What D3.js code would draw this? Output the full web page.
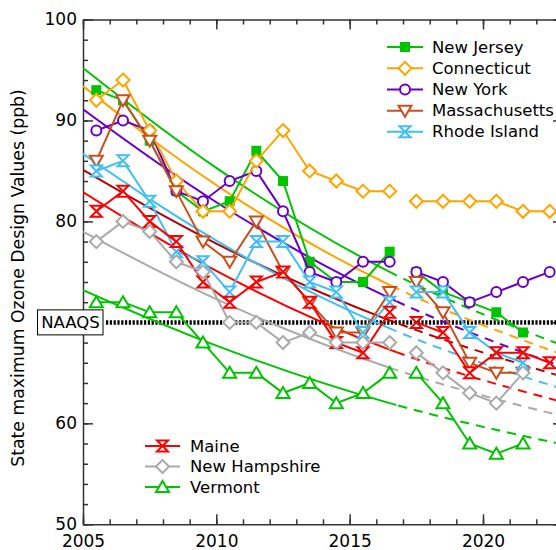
<!DOCTYPE html>
<html>
<head>
<meta charset="utf-8">
<script src="https://cdn.jsdelivr.net/npm/d3@7"></script>
<style>
  body { margin: 0; background: #fff; }
  svg text { font-family: "DejaVu Sans", sans-serif; fill: #000; }
</style>
</head>
<body>
<div id="my_dataviz"></div>
<script>
// design value years (points sit in the middle of each year)
const years = [2005, 2006, 2007, 2008, 2009, 2010, 2011, 2012, 2013, 2014, 2015, 2016, 2017, 2018, 2019, 2020, 2021, 2022];

const newJersey     = [93, 92, 88, 83, 81, 82, 87, 84, 76, 74, 74, 77, 75, 73, 72, 71, 69, null];
const connecticut   = [92, 94, 89, 84, 81, 81, 86, 89, 85, 84, 83, 83, 82, 82, 82, 82, 81, 81];
const newYork       = [89, 90, 89, 83, 82, 84, 85, 81, 75, 74, 76, 76, 75, 74, 72, 73, 74, 75];
const massachusetts = [86, 92, 88, 83, 78, 76, 80, 75, 72, 69, 69, 73, 74, 71, 66, 65, 65, null];
const rhodeIsland   = [85, 86, 82, 77, 76, 73, 78, 78, 74, 73, 69, 72, 73, 73, 69, 67, 66, null];
const maine         = [81, 83, 80, 78, 74, 72, 74, 75, 72, 68, 67, 71, 70, 69, 65, 67, 67, 66];
const newHampshire  = [78, 80, 79, 76, 75, 70, 70, 68, 69, 68, 68, 68, 67, 65, 63, 62, 65, null];
const vermont       = [72, 72, 71, 71, 68, 65, 65, 63, 64, 62, 63, 65, 65, 62, 58, 57, 58, null];

// fitted trend curves
const trendYears = [2005, 2010, 2016.5, 2023];
const trendNJ = [95.2, 85.3, 75.0, 67.7];
const trendCT = [93.4, 83.6, 73.7, 66.8];
const trendNY = [91.1, 81.9, 72.4, 65.6];
const trendMA = [85.1, 77.8, 70.2, 64.6];
const trendRI = [86.7, 78.1, 69.4, 63.4];
const trendME = [82.9, 75.1, 67.3, 62.1];
const trendNH = [79.0, 72.3, 65.5, 60.7];
const trendVT = [73.2, 67.7, 62.0, 57.9];
const trendSplit = 2016.75;

const naaqs = 70;
const xTicksMajor = [2005, 2010, 2015, 2020];
const yTicksMajor = [50, 60, 70, 80, 90, 100];

const W = 556, H = 550;

const svg = d3.select("#my_dataviz")
  .append("svg")
    .attr("width", W)
    .attr("height", H);

const x = d3.scaleLinear().domain([2005, 2023]).range([83, 563]);
const y = d3.scaleLinear().domain([50, 100]).range([524.3, 19.5]);

const states = [
  {name: "New Jersey",    vals: newJersey,     color: "#00c400", trend: trendNJ, tcolor: "#00c400", mark: "square"},
  {name: "New York",      vals: newYork,       color: "#6a00c8", trend: trendNY, tcolor: "#6a00c8", mark: "circle"},
  {name: "Connecticut",   vals: connecticut,   color: "#ffa500", trend: trendCT, tcolor: "#ffa500", mark: "diamond"},
  {name: "Massachusetts", vals: massachusetts, color: "#c8501e", trend: trendMA, tcolor: "#b40000", mark: "tridown"},
  {name: "Rhode Island",  vals: rhodeIsland,   color: "#40bff5", trend: trendRI, tcolor: "#40bff5", mark: "hourglass"},
  {name: "Maine",         vals: maine,         color: "#ff0000", trend: trendME, tcolor: "#ff0000", mark: "hourglass"},
  {name: "New Hampshire", vals: newHampshire,  color: "#aaaaaa", trend: trendNH, tcolor: "#aaaaaa", mark: "diamond"},
  {name: "Vermont",       vals: vermont,       color: "#00c400", trend: trendVT, tcolor: "#00c400", mark: "triup"}
];
const byName = {};
states.forEach(s => byName[s.name] = s);

// ---------------------------//
//       CLIPS                //
// ---------------------------//
const defs = svg.append("defs");
defs.append("clipPath").attr("id", "clipSolid")
  .append("rect")
    .attr("x", x(2005)).attr("y", 0)
    .attr("width", x(trendSplit) - x(2005)).attr("height", H);
defs.append("clipPath").attr("id", "clipDash")
  .append("rect")
    .attr("x", x(trendSplit)).attr("y", 0)
    .attr("width", x(2023) - x(trendSplit)).attr("height", H);

// ---------------------------//
//       AXES                 //
// ---------------------------//
const axisColor = "#333";
function styleAxis(g) {
  g.selectAll("path, line").attr("stroke", axisColor).attr("stroke-width", 1.5);
  g.selectAll("text").style("font-size", "17px").attr("fill", "#000");
}
const allYears = d3.range(2005, 2024);
const minorY = d3.range(50, 101, 2);

svg.append("g").attr("transform", `translate(0,${y(50)})`)
  .call(d3.axisBottom(x).tickValues(allYears).tickSize(-5).tickSizeOuter(0).tickFormat(""))
  .call(styleAxis);
svg.append("g").attr("transform", `translate(0,${y(50)})`)
  .call(d3.axisBottom(x).tickValues(xTicksMajor).tickSize(-10).tickSizeOuter(0).tickPadding(10.5).tickFormat(d3.format("d")))
  .call(g => g.select(".domain").remove())
  .call(styleAxis);
svg.append("g").attr("transform", `translate(0,${y(100)})`)
  .call(d3.axisTop(x).tickValues(allYears).tickSize(-5).tickSizeOuter(0).tickFormat(""))
  .call(styleAxis);
svg.append("g").attr("transform", `translate(0,${y(100)})`)
  .call(d3.axisTop(x).tickValues(xTicksMajor).tickSize(-10).tickSizeOuter(0).tickFormat(""))
  .call(g => g.select(".domain").remove())
  .call(styleAxis);

svg.append("g").attr("transform", `translate(${x(2005)},0)`)
  .call(d3.axisLeft(y).tickValues(minorY).tickSize(-5).tickSizeOuter(0).tickFormat(""))
  .call(styleAxis);
svg.append("g").attr("transform", `translate(${x(2005)},0)`)
  .call(d3.axisLeft(y).tickValues(yTicksMajor).tickSize(-10).tickSizeOuter(0).tickPadding(6))
  .call(g => g.select(".domain").remove())
  .call(styleAxis);
svg.append("g").attr("transform", `translate(${x(2023)},0)`)
  .call(d3.axisRight(y).tickValues(minorY).tickSize(-5).tickSizeOuter(0).tickFormat(""))
  .call(styleAxis);
svg.append("g").attr("transform", `translate(${x(2023)},0)`)
  .call(d3.axisRight(y).tickValues(yTicksMajor).tickSize(-10).tickSizeOuter(0).tickFormat(""))
  .call(g => g.select(".domain").remove())
  .call(styleAxis);

// y axis title
svg.append("text")
  .attr("transform", `translate(24,${278}) rotate(-90)`)
  .attr("text-anchor", "middle")
  .style("font-size", "17.3px")
  .text("State maximum Ozone Design Values (ppb)");

// ---------------------------//
//       NAAQS                //
// ---------------------------//
svg.append("line")
  .attr("x1", 106).attr("x2", W)
  .attr("y1", y(naaqs)).attr("y2", y(naaqs))
  .attr("stroke", "#000")
  .attr("stroke-width", 4.5)
  .attr("stroke-dasharray", "2.2,1.6");

svg.append("rect")
  .attr("x", 37.5).attr("y", y(naaqs) - 12.5)
  .attr("width", 65.5).attr("height", 25)
  .attr("fill", "#fff").attr("stroke", "#000").attr("stroke-width", 1);
svg.append("text")
  .attr("x", 70.5).attr("y", y(naaqs))
  .attr("text-anchor", "middle")
  .attr("dominant-baseline", "central")
  .style("font-size", "16.5px")
  .text("NAAQS");

// ---------------------------//
//       TRENDS               //
// ---------------------------//
const trendLine = d3.line()
  .x(d => x(d[0]))
  .y(d => y(d[1]))
  .curve(d3.curveNatural);

states.forEach(s => {
  const pts = trendYears.map((yr, i) => [yr, s.trend[i]]);
  svg.append("path")
    .attr("d", trendLine(pts))
    .attr("clip-path", "url(#clipSolid)")
    .attr("fill", "none").attr("stroke", s.tcolor).attr("stroke-width", 2);
  svg.append("path")
    .attr("d", trendLine(pts))
    .attr("clip-path", "url(#clipDash)")
    .attr("fill", "none").attr("stroke", s.tcolor).attr("stroke-width", 2)
    .attr("stroke-dasharray", "9,7");
});

// ---------------------------//
//       MARKERS              //
// ---------------------------//
function drawMarker(g, type, color) {
  if (type === "square") {
    g.append("rect").attr("x", -5).attr("y", -5).attr("width", 10).attr("height", 10)
      .attr("fill", color);
  } else if (type === "circle") {
    g.append("circle").attr("r", 5)
      .attr("fill", "#fff").attr("stroke", color).attr("stroke-width", 2);
  } else {
    const paths = {
      diamond: "M0,-6.5L6.5,0L0,6.5L-6.5,0Z",
      tridown: "M-6.5,-5L6.5,-5L0,6Z",
      triup: "M0,-6L6.5,5L-6.5,5Z",
      hourglass: "M-5.5,-5.5L5.5,-5.5L-5.5,5.5L5.5,5.5Z"
    };
    g.append("path").attr("d", paths[type])
      .attr("fill", "#fff").attr("stroke", color).attr("stroke-width", 2)
      .attr("stroke-linejoin", "miter");
  }
}

// ---------------------------//
//       SERIES               //
// ---------------------------//
const dataLine = d3.line()
  .defined(d => d.v !== null)
  .x(d => x(d.yr + 0.5))
  .y(d => y(d.v));

states.forEach(s => {
  const pts = years.map((yr, i) => ({yr: yr, v: s.vals[i]}));
  const early = pts.filter(d => d.yr <= 2016);
  const late = pts.filter(d => d.yr >= 2017);
  const g = svg.append("g");
  [early, late].forEach(part => {
    g.append("path")
      .attr("d", dataLine(part))
      .attr("fill", "none").attr("stroke", s.color).attr("stroke-width", 2);
  });
  pts.filter(d => d.v !== null).forEach(d => {
    const m = g.append("g").attr("transform", `translate(${x(d.yr + 0.5)},${y(d.v)})`);
    drawMarker(m, s.mark, s.color);
  });
});

// ---------------------------//
//       LEGENDS              //
// ---------------------------//
function legend(names, x0, x1, tx, ys) {
  names.forEach((n, i) => {
    const s = byName[n];
    svg.append("line")
      .attr("x1", x0).attr("x2", x1).attr("y1", ys[i]).attr("y2", ys[i])
      .attr("stroke", s.color).attr("stroke-width", 2);
    const m = svg.append("g").attr("transform", `translate(${(x0 + x1) / 2},${ys[i]})`);
    drawMarker(m, s.mark, s.color);
    svg.append("text")
      .attr("x", tx).attr("y", ys[i])
      .attr("dominant-baseline", "central")
      .style("font-size", "16.5px")
      .text(n);
  });
}
legend(["New Jersey", "Connecticut", "New York", "Massachusetts", "Rhode Island"],
  387, 423, 432, [47, 68.3, 89.5, 110.7, 131.7]);
legend(["Maine", "New Hampshire", "Vermont"],
  145, 180, 190, [446, 466.5, 487]);
</script>
</body>
</html>
